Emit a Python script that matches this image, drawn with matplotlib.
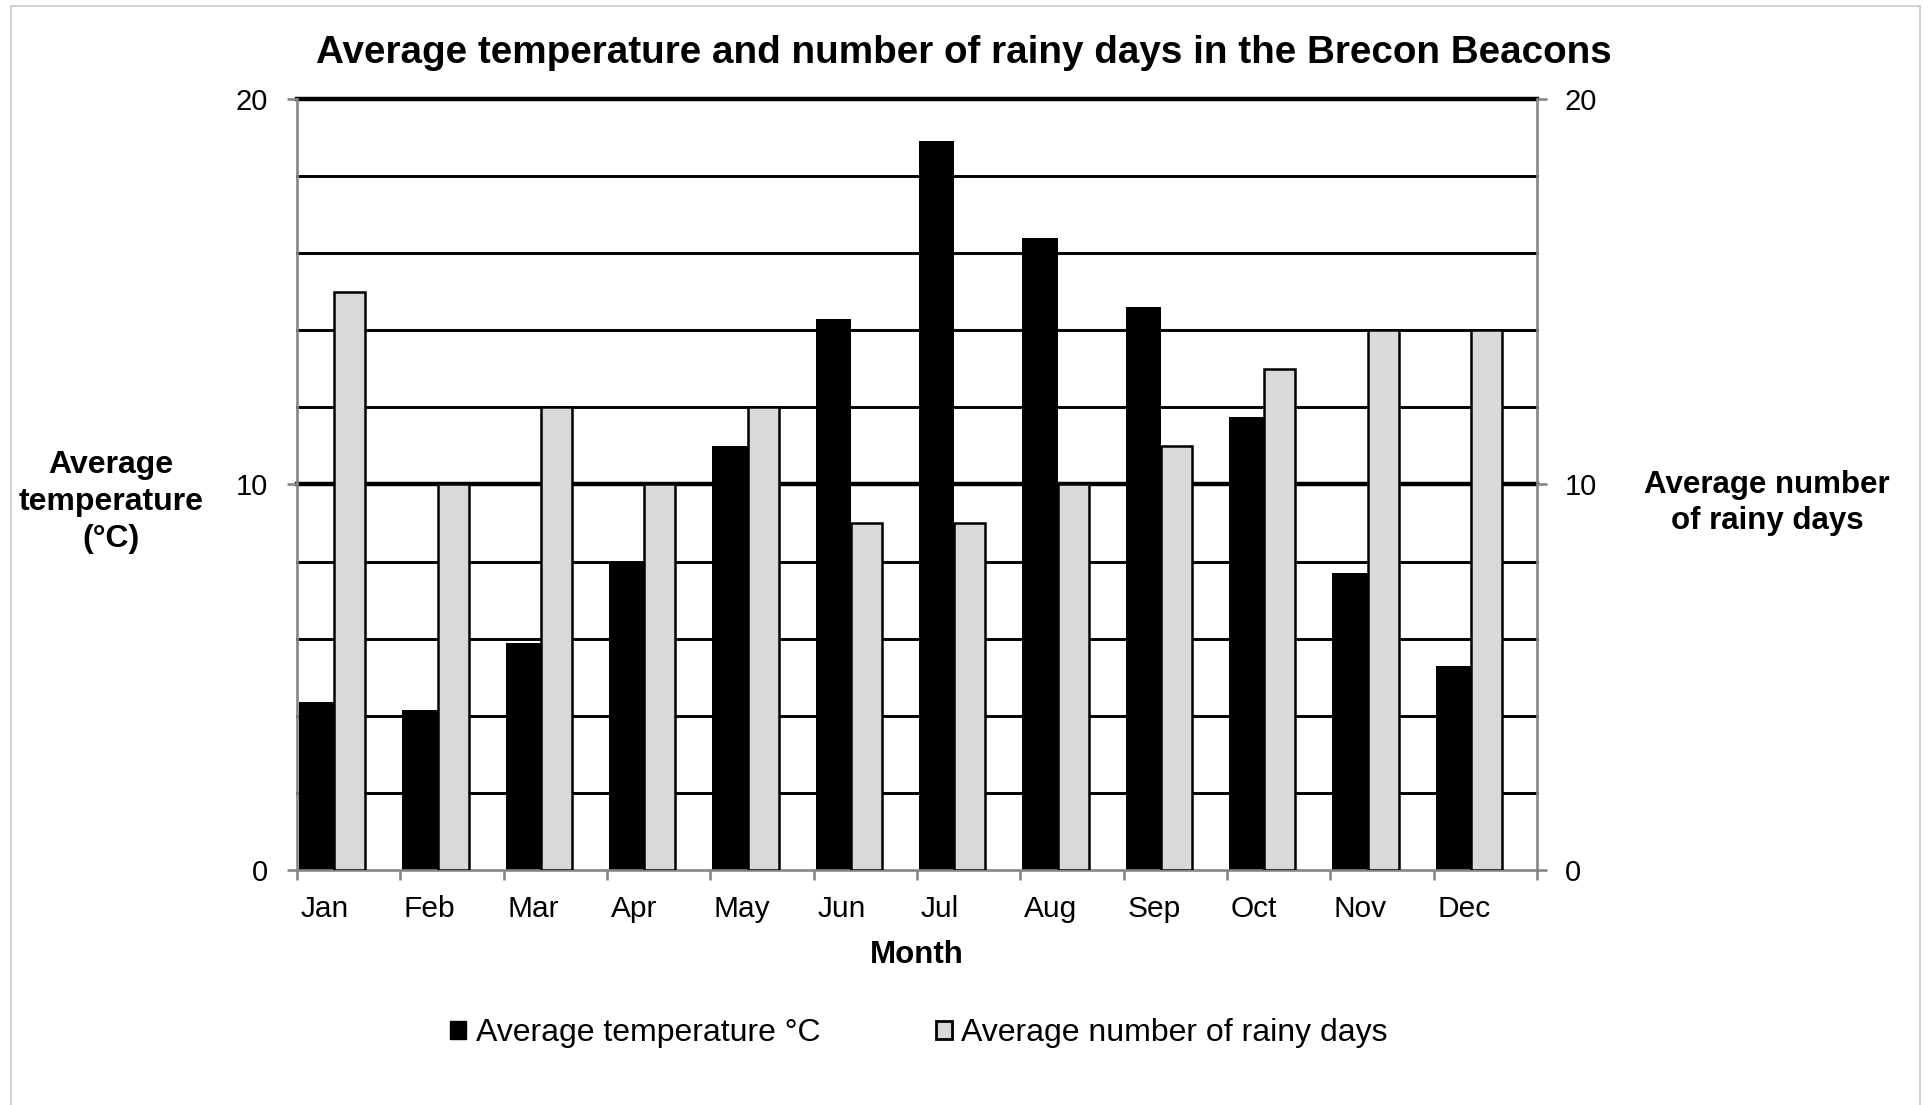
import numpy as np
import matplotlib
matplotlib.use("Agg")
import matplotlib.pyplot as plt
from matplotlib.patches import Patch, Rectangle

plt.rcParams['font.family'] = ['Liberation Sans', 'DejaVu Sans']

months = ["Jan", "Feb", "Mar", "Apr", "May", "Jun", "Jul", "Aug", "Sep", "Oct", "Nov", "Dec"]
avg_temp = [4.35, 4.15, 5.9, 8.0, 11.0, 14.3, 18.9, 16.4, 14.6, 11.75, 7.7, 5.3]
rainy_days = [15, 10, 12, 10, 12, 9, 9, 10, 11, 13, 14, 14]
y_ticks = [0, 10, 20]
grid_values = list(range(2, 21, 2))

title = "Average temperature and number of rainy days in the Brecon Beacons"
temp_label = "Average temperature °C"
rain_label = "Average number of rainy days"

W, H = 1928, 1105
fig = plt.figure(figsize=(W / 100, H / 100), dpi=100)

# figure border
fig.patches.append(Rectangle((11 / W, -0.02), (1920 - 11) / W, 1 - 6 / H + 0.02,
                             transform=fig.transFigure, fill=False,
                             edgecolor='#c8c8c8', lw=1.2, zorder=0))

left, right, top, bottom = 297, 1537, 99, 870
ax = fig.add_axes([left / W, 1 - bottom / H, (right - left) / W, (bottom - top) / H])
ax2 = ax.twinx()

x = np.arange(len(months))
ax.set_xlim(0, len(months))
ax.set_ylim(0, 20)
ax2.set_ylim(0, 20)

# gridlines
for v in grid_values:
    lw = 3.2 if v % 10 == 0 else 2.1
    ax.axhline(v, color='black', lw=lw, zorder=0.5, clip_on=False)

ax.bar(x + 0.02, avg_temp, width=0.34, align='edge', color='black',
       edgecolor='none', zorder=2)
ax2.bar(x + 0.36, rainy_days, width=0.30, align='edge', color='#d9d9d9',
        edgecolor='black', lw=1.8, zorder=2)

axis_gray = '#868686'
for a in (ax, ax2):
    for s in a.spines.values():
        s.set_visible(False)
ax.spines['left'].set_visible(True)
ax.spines['bottom'].set_visible(True)
ax2.spines['right'].set_visible(True)
for s in (ax.spines['left'], ax.spines['bottom'], ax2.spines['right']):
    s.set_color(axis_gray)
    s.set_linewidth(1.9)
    s.set_zorder(3)

ax.set_yticks(y_ticks)
ax.set_yticklabels([str(t) for t in y_ticks])
ax2.set_yticks(y_ticks)
ax2.set_yticklabels([str(t) for t in y_ticks])
ax.tick_params(axis='y', direction='out', length=7, width=1.9, color=axis_gray,
               labelsize=21, pad=14)
ax2.tick_params(axis='y', direction='out', length=7, width=1.9, color=axis_gray,
                labelsize=21, pad=13)

ax.set_xticks(np.arange(len(months) + 1))
ax.set_xticklabels([])
ax.tick_params(axis='x', which='major', direction='out', length=7, width=1.9,
               color=axis_gray)
ax.set_xticks(x + 0.035, minor=True)
ax.set_xticklabels(months, minor=True, ha='left')
ax.tick_params(axis='x', which='minor', length=0, labelsize=21.5, pad=18)

fig.text(964 / W, 1 - 53 / H, title, ha='center', va='center',
         fontsize=27.8, fontweight='bold')
fig.text(917 / W, 1 - 955 / H, "Month", ha='center', va='center',
         fontsize=22.5, fontweight='bold')
fig.text(111 / W, 1 - 502 / H, "Average\ntemperature\n(°C)", ha='center',
         va='center', fontsize=23, fontweight='bold', linespacing=1.3)
fig.text(1767 / W, 1 - 503 / H, "Average number\nof rainy days", ha='center',
         va='center', fontsize=22.5, fontweight='bold', linespacing=1.3)

handles = [Patch(facecolor='black', edgecolor='black', lw=1.0, label=temp_label),
           Patch(facecolor='#d9d9d9', edgecolor='black', lw=2.0, label=rain_label)]
fig.legend(handles=handles, loc='center', bbox_to_anchor=(919 / W, 1 - 1033 / H),
           ncol=2, frameon=False, fontsize=23, handlelength=0.5,
           handleheight=0.5, handletextpad=0.3, columnspacing=3.6)

fig.savefig("out.png", dpi=100)
